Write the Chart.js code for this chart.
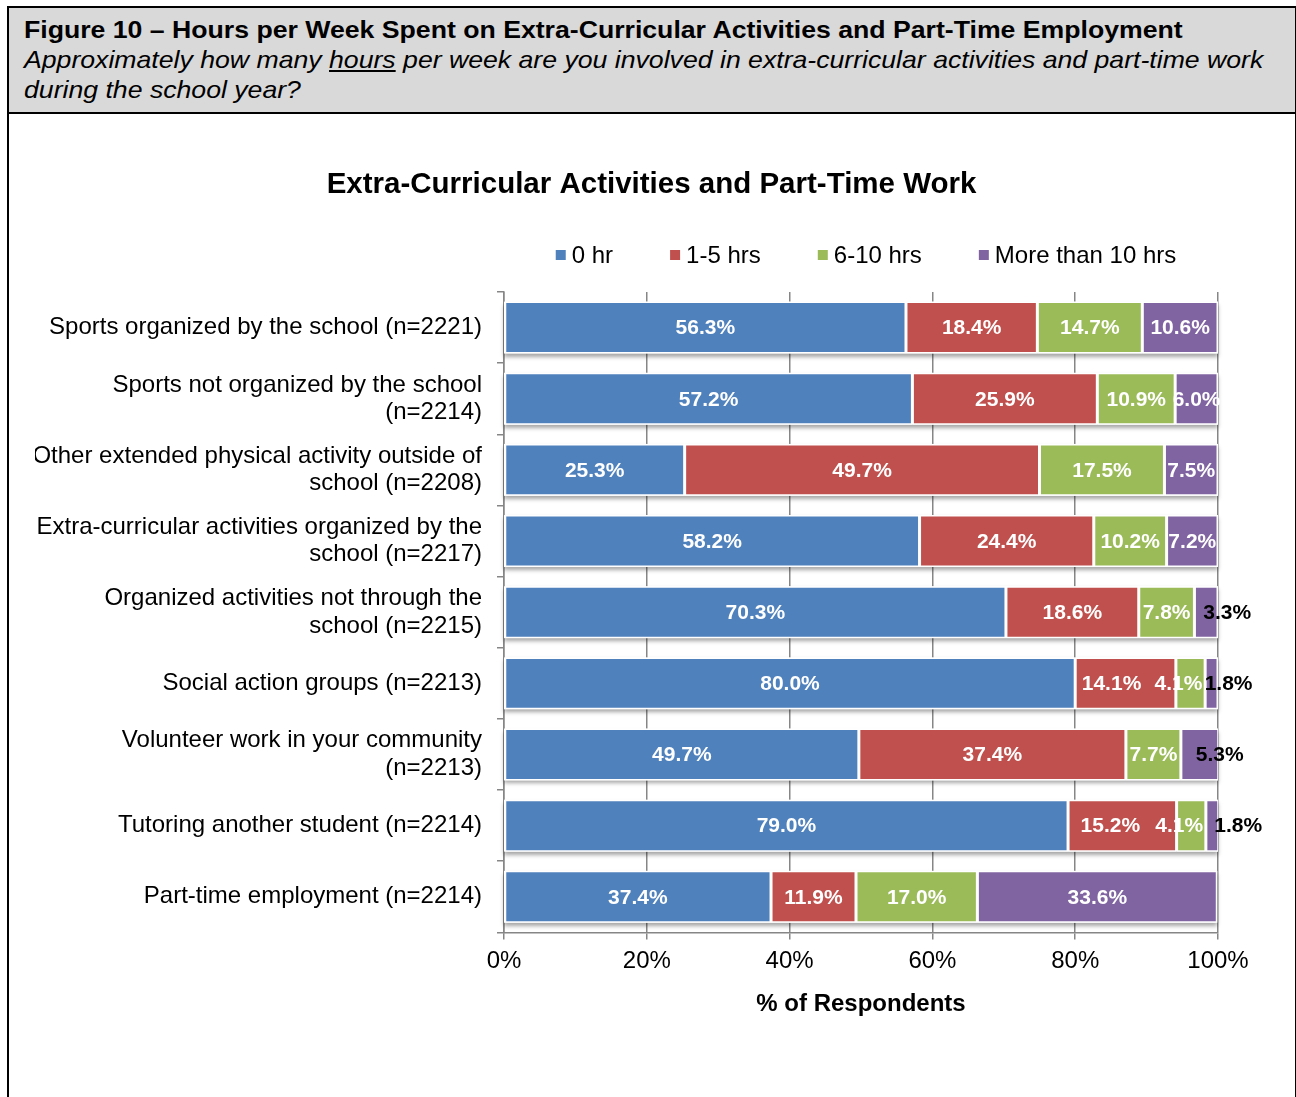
<!DOCTYPE html>
<html>
<head>
<meta charset="utf-8">
<script src="https://cdn.jsdelivr.net/npm/chart.js@4.4.1/dist/chart.umd.min.js"></script>
<style>
  body { margin: 0; background: #fff; font-family: "Liberation Sans", Arial, sans-serif; }
  #frame {
    position: absolute; left: 7px; top: 6px; width: 1286px; height: 1100px;
    border: 2px solid #000; border-bottom: none;
  }
  #head {
    background: #d9d9d9; border-bottom: 2px solid #000;
    height: 97px; padding: 7px 0 0 15px;
    font-size: 24px; line-height: 30px; color: #000;
  }
  #head span {
    display: block; white-space: nowrap;
    transform: scaleX(1.11); transform-origin: left center;
  }
  #head .t { font-weight: bold; }
  #head .q { font-style: italic; }
  #wrap { position: relative; width: 1285px; height: 983px; }
</style>
</head>
<body>
<div id="frame">
  <div id="head">
    <span class="t">Figure 10 – Hours per Week Spent on Extra-Curricular Activities and Part-Time Employment</span>
    <span class="q">Approximately how many <u>hours</u> per week are you involved in extra-curricular activities and part-time work</span>
    <span class="q">during the school year?</span>
  </div>
  <div id="wrap"><canvas id="chart"></canvas></div>
</div>
<script>
// categories (top to bottom) and the share of respondents per answer, in %
const categories = [
  'Sports organized by the school (n=2221)',
  ['Sports not organized by the school', '(n=2214)'],
  ['Other extended physical activity outside of', 'school (n=2208)'],
  ['Extra-curricular activities organized by the', 'school (n=2217)'],
  ['Organized activities not through the', 'school (n=2215)'],
  'Social action groups (n=2213)',
  ['Volunteer work in your community', '(n=2213)'],
  'Tutoring another student (n=2214)',
  'Part-time employment (n=2214)'
];
const seriesNames = ['0 hr', '1-5 hrs', '6-10 hrs', 'More than 10 hrs'];
const zeroHr    = [56.3, 57.2, 25.3, 58.2, 70.3, 80.0, 49.7, 79.0, 37.4];
const oneToFive = [18.4, 25.9, 49.7, 24.4, 18.6, 14.1, 37.4, 15.2, 11.9];
const sixToTen  = [14.7, 10.9, 17.5, 10.2,  7.8,  4.1,  7.7,  4.1, 17.0];
const overTen   = [10.6,  6.0,  7.5,  7.2,  3.3,  1.8,  5.3,  1.8, 33.6];
const xTicks = [0, 20, 40, 60, 80, 100];

const colors = ['#4f81bd', '#c0504d', '#9bbb59', '#8064a2'];
const FONT = '"Liberation Sans", Arial, sans-serif';

// labels that sit off-centre: key "dataset,row" -> x shift in px; dark ones sit outside the bar
const labelShift = { '1,5': -14, '2,5': -12, '1,7': -12, '2,7': -12, '3,4': 21, '3,5': 17, '3,6': 20, '3,7': 26 };
const darkLabels = ['3,4', '3,5', '3,6', '3,7'];

// soft grey shadow under each full bar
const barShadow = {
  id: 'barShadow',
  beforeDatasetsDraw(chart) {
    const ctx = chart.ctx, xs = chart.scales.x;
    const meta = chart.getDatasetMeta(0);
    ctx.save();
    ctx.shadowColor = 'rgba(0,0,0,0.35)';
    ctx.shadowBlur = 4;
    ctx.shadowOffsetY = 3;
    ctx.fillStyle = '#fff';
    meta.data.forEach((bar, i) => {
      const total = chart.data.datasets.reduce((s, d) => s + d.data[i], 0);
      const right = xs.getPixelForValue(Math.min(total, 100));
      ctx.fillRect(xs.left, bar.y - bar.height / 2, right - xs.left, bar.height);
    });
    ctx.restore();
  }
};

// percentage labels on the segments
const segmentLabels = {
  id: 'segmentLabels',
  afterDatasetsDraw(chart) {
    const ctx = chart.ctx;
    ctx.save();
    ctx.font = 'bold 21px ' + FONT;
    ctx.textAlign = 'center';
    ctx.textBaseline = 'middle';
    chart.data.datasets.forEach((ds, d) => {
      chart.getDatasetMeta(d).data.forEach((bar, i) => {
        const key = d + ',' + i;
        const x = (bar.x + bar.base) / 2 + (labelShift[key] || 0);
        ctx.fillStyle = darkLabels.includes(key) ? '#000' : '#fff';
        ctx.fillText(ds.data[i].toFixed(1) + '%', x, bar.y + 1);
      });
    });
    ctx.restore();
  }
};

// single-row legend with small squares, centred over the plot
const legendRow = {
  id: 'legendRow',
  afterDraw(chart) {
    const ctx = chart.ctx, area = chart.chartArea;
    const box = 10, gapText = 6, gapItem = 57, y = 141;
    ctx.save();
    ctx.font = '24px ' + FONT;
    ctx.textBaseline = 'middle';
    const items = chart.data.datasets.map(ds => ({ text: ds.label, color: ds.backgroundColor, w: ctx.measureText(ds.label).width }));
    const total = items.reduce((s, it) => s + box + gapText + it.w, 0) + gapItem * (items.length - 1);
    let x = (area.left + area.right) / 2 - total / 2 + 5;
    items.forEach(it => {
      ctx.fillStyle = it.color;
      ctx.fillRect(x, y - box / 2, box, box);
      ctx.fillStyle = '#000';
      ctx.fillText(it.text, x + box + gapText, y + 1);
      x += box + gapText + it.w + gapItem;
    });
    ctx.restore();
  }
};

const values = [zeroHr, oneToFive, sixToTen, overTen];

new Chart(document.getElementById('chart'), {
  type: 'bar',
  data: {
    labels: categories,
    datasets: values.map((v, k) => ({
      label: seriesNames[k],
      data: v,
      backgroundColor: colors[k],
      borderColor: '#ffffff',
      borderWidth: 1.5,
      borderSkipped: false,
      barPercentage: 0.73,
      categoryPercentage: 1
    }))
  },
  options: {
    indexAxis: 'y',
    responsive: true,
    maintainAspectRatio: false,
    animation: false,
    layout: { padding: { left: 26, right: 26, top: 0, bottom: 78 } },
    plugins: {
      legend: { display: false },
      tooltip: { enabled: false },
      title: {
        display: true,
        text: 'Extra-Curricular Activities and Part-Time Work',
        color: '#000',
        font: { family: FONT, size: 29.5, weight: 'bold' },
        padding: { top: 53, bottom: 89.6 }
      }
    },
    scales: {
      x: {
        stacked: true,
        min: 0,
        max: 100,
        afterBuildTicks: s => { s.ticks = xTicks.map(v => ({ value: v })); },
        ticks: {
          color: '#000',
          font: { family: FONT, size: 24 },
          padding: 8,
          callback: v => v + '%'
        },
        grid: { color: '#868686', lineWidth: 1.5, tickLength: 7 },
        border: { color: '#868686', width: 1.5 },
        title: {
          display: true,
          text: '% of Respondents',
          color: '#000',
          font: { family: FONT, size: 24, weight: 'bold' },
          padding: { top: 6, bottom: 0 }
        }
      },
      y: {
        stacked: true,
        afterFit: s => { s.width = 469; },
        ticks: {
          color: '#000',
          font: { family: FONT, size: 24, lineHeight: 1.15 },
          padding: 15
        },
        grid: { drawOnChartArea: false, color: '#868686', lineWidth: 1.5, tickLength: 7, offset: true },
        border: { color: '#868686', width: 1.5 }
      },
      // empty strip on the right so the plot ends where the 100% tick needs room
      yRight: {
        position: 'right',
        afterFit: s => { s.width = 50; },
        ticks: { display: false },
        grid: { display: false },
        border: { display: false }
      }
    }
  },
  plugins: [barShadow, segmentLabels, legendRow]
});
</script>
</body>
</html>
